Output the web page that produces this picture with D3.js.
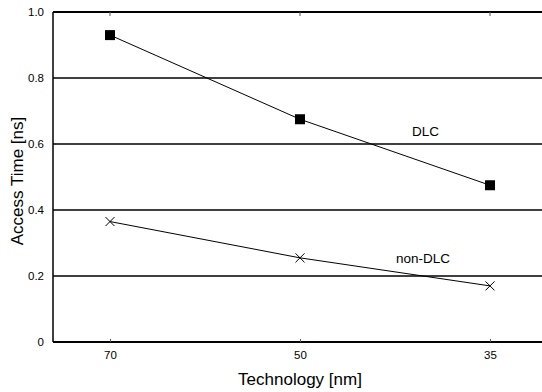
<!DOCTYPE html>
<html>
<head>
<meta charset="utf-8">
<script src="https://cdn.jsdelivr.net/npm/d3@7"></script>
<style>
  body { margin: 0; background: #fff; }
  svg { display: block; font-family: "Liberation Sans", Arial, sans-serif; }
</style>
</head>
<body>
<svg id="chart" width="542" height="392"></svg>
<script>
// Chart data
const technologies = ["70", "50", "35"];
const dlcTimes = [0.93, 0.675, 0.475];
const nonDlcTimes = [0.365, 0.255, 0.17];
const yTicks = [0, 0.2, 0.4, 0.6, 0.8, 1.0];

const svg = d3.select("#chart");
const plotLeft = 53, plotTop = 12, plotBottom = 342, plotRight = 547;

// Scales
const x = d3.scalePoint().domain(technologies).range([plotLeft, plotRight]).padding(0.3);
const y = d3.scaleLinear().domain([0, 1]).range([plotBottom, plotTop]);

// Horizontal grid lines (also top frame)
svg.append("g")
    .selectAll("line")
    .data(yTicks.filter(d => d > 0))
    .join("line")
    .attr("x1", plotLeft).attr("x2", plotRight)
    .attr("y1", d => y(d)).attr("y2", d => y(d))
    .attr("stroke", "#000")
    .attr("stroke-width", d => d === 1 ? 2 : 1.5);

// Bottom axis
const xAxis = svg.append("g")
    .attr("transform", `translate(0,${plotBottom})`)
    .call(d3.axisBottom(x).tickSize(-3).tickPadding(9));
xAxis.select(".domain").attr("stroke-width", 2).attr("d", `M${plotLeft},0H${plotRight}`);
xAxis.selectAll(".tick line").attr("stroke", "#555");
xAxis.selectAll("text").attr("font-size", 11.5).attr("fill", "#000")
    .attr("font-family", "Liberation Sans, Arial, sans-serif");

// Top ticks
svg.append("g")
    .selectAll("line")
    .data(technologies)
    .join("line")
    .attr("x1", d => x(d)).attr("x2", d => x(d))
    .attr("y1", plotTop).attr("y2", plotTop + 4)
    .attr("stroke", "#555");

// Left axis
const yAxis = svg.append("g")
    .attr("transform", `translate(${plotLeft},0)`)
    .call(d3.axisLeft(y).tickValues(yTicks).tickSize(0).tickPadding(9)
        .tickFormat(d => d === 0 ? "0" : d3.format(".1f")(d)));
yAxis.select(".domain").attr("stroke-width", 1.5).attr("d", `M0,${plotTop}V${plotBottom}`);
yAxis.selectAll("text").attr("font-size", 11.5).attr("fill", "#000")
    .attr("font-family", "Liberation Sans, Arial, sans-serif");

// Lines
const line = d3.line()
    .x((d, i) => x(technologies[i]))
    .y(d => y(d));

svg.append("path").datum(dlcTimes)
    .attr("d", line).attr("fill", "none").attr("stroke", "#000").attr("stroke-width", 1);
svg.append("path").datum(nonDlcTimes)
    .attr("d", line).attr("fill", "none").attr("stroke", "#000").attr("stroke-width", 1);

// Square markers
svg.append("g")
    .selectAll("rect")
    .data(dlcTimes)
    .join("rect")
    .attr("x", (d, i) => x(technologies[i]) - 5)
    .attr("y", d => y(d) - 5)
    .attr("width", 10).attr("height", 10)
    .attr("fill", "#000");

// Cross markers
svg.append("g")
    .selectAll("path")
    .data(nonDlcTimes)
    .join("path")
    .attr("d", (d, i) => {
        const cx = x(technologies[i]), cy = y(d), r = 4.5;
        return `M${cx - r},${cy - r}L${cx + r},${cy + r}M${cx - r},${cy + r}L${cx + r},${cy - r}`;
    })
    .attr("stroke", "#000").attr("stroke-width", 1).attr("fill", "none");

// Series labels
svg.append("text").attr("x", 425.5).attr("y", 136)
    .attr("text-anchor", "middle").attr("font-size", 13.5).text("DLC");
svg.append("text").attr("x", 423).attr("y", 263)
    .attr("text-anchor", "middle").attr("font-size", 13.5).text("non-DLC");

// Axis titles
svg.append("text")
    .attr("transform", `translate(23,${(plotTop + plotBottom) / 2 + 4}) rotate(-90)`)
    .attr("text-anchor", "middle").attr("font-size", 17).text("Access Time [ns]");
svg.append("text").attr("x", 300).attr("y", 385)
    .attr("text-anchor", "middle").attr("font-size", 17).text("Technology [nm]");
</script>
</body>
</html>
